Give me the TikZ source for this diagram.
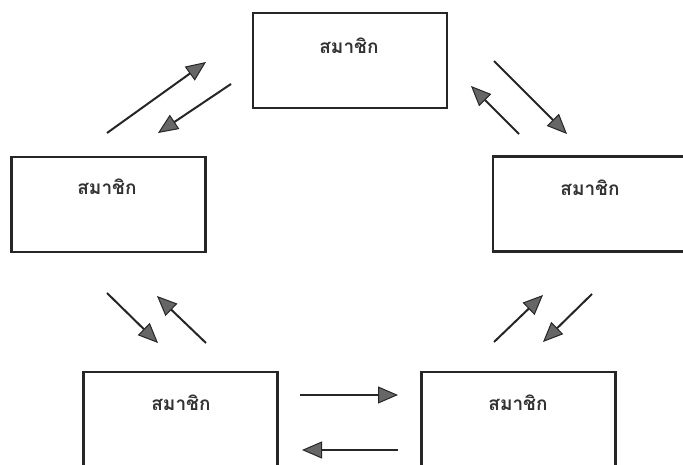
\documentclass[tikz,border=0pt]{standalone}
\usepackage{fontspec}
\newfontfamily\thaifont[Script=Thai]{Loma}
\usetikzlibrary{arrows.meta}
\begin{document}
\begin{tikzpicture}[x=1pt,y=-1pt,
  member/.style={draw=black!85, line width=2.4pt, rectangle, minimum width=194pt, minimum height=95pt, inner sep=0pt},
  lbl/.style={font=\thaifont\bfseries\fontsize{19}{22}\selectfont, text=black!80, inner sep=0pt},
  link/.style={line width=2pt, draw=black!85, -{Triangle[length=20pt,width=17pt,fill=black!60,line width=1pt]}}]
\useasboundingbox (0,0) rectangle (683,465);
\clip (0,0) rectangle (683,465);
\fill[white] (0,0) rectangle (683,465);
% boxes
\node[member] (top) at (350,60.5) {};
\node[member] (left) at (108.5,204.5) {};
\node[member] (right) at (590,204) {};
\node[member] (bl) at (180.5,419.5) {};
\node[member] (br) at (518.5,419.5) {};
% labels
\node[lbl] (ttop) at (349,46) {สมาชิก};
\node[lbl] (tleft) at (107,187) {สมาชิก};
\node[lbl] (tright) at (590,188) {สมาชิก};
\node[lbl] (tbl) at (181,403) {สมาชิก};
\node[lbl] (tbr) at (518,403) {สมาชิก};
% arrow end points
\coordinate (a1s) at (107,133); \coordinate (a1e) at (206,62);
\coordinate (a2s) at (231,84);  \coordinate (a2e) at (158,133);
\coordinate (a3s) at (494,61);  \coordinate (a3e) at (567,134);
\coordinate (a4s) at (519,134); \coordinate (a4e) at (471,86);
\coordinate (a5s) at (107,293); \coordinate (a5e) at (158,343);
\coordinate (a6s) at (206,343); \coordinate (a6e) at (157,296);
\coordinate (a7s) at (300,395); \coordinate (a7e) at (398,395);
\coordinate (a8s) at (398,450); \coordinate (a8e) at (302,450);
\coordinate (a9s) at (494,342); \coordinate (a9e) at (543,295);
\coordinate (a10s) at (592,294); \coordinate (a10e) at (543,342);
% arrows
\draw[link] (a1s) -- (a1e);
\draw[link] (a2s) -- (a2e);
\draw[link] (a3s) -- (a3e);
\draw[link] (a4s) -- (a4e);
\draw[link] (a5s) -- (a5e);
\draw[link] (a6s) -- (a6e);
\draw[link] (a7s) -- (a7e);
\draw[link] (a8s) -- (a8e);
\draw[link] (a9s) -- (a9e);
\draw[link] (a10s) -- (a10e);
\end{tikzpicture}
\end{document}
